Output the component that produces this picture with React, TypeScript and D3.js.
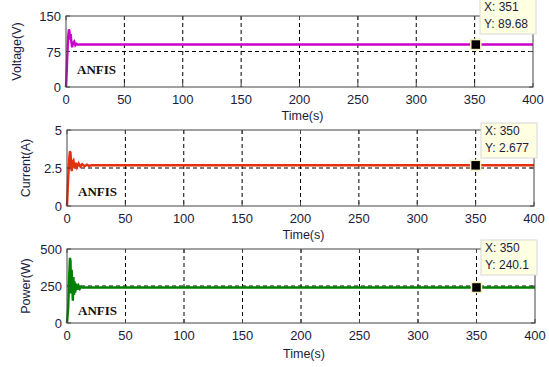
import React from "react";
import * as d3 from "d3";

const xTicks = [0, 50, 100, 150, 200, 250, 300, 350, 400];

const voltT = [0, 0.5, 1, 1.8, 2.5, 3, 3.5, 4, 4.6, 5.3, 6, 7, 8, 9, 10, 12, 400];
const voltV = [0, 25, 60, 105, 122, 118, 100, 112, 95, 84, 93, 96, 88, 91, 89.5, 89.7, 89.68];

const currT = [0, 0.5, 1, 2, 2.5, 3, 3.5, 4, 4.6, 5.5, 6.5, 7.5, 8.5, 10, 11.5, 13, 15, 17, 19, 21, 400];
const currV = [0, 0.9, 1.8, 3.2, 3.6, 3.5, 2.8, 2.3, 2.9, 3.0, 2.5, 2.85, 2.55, 2.8, 2.6, 2.75, 2.62, 2.72, 2.64, 2.677, 2.677];

const powT = [0, 0.5, 1, 1.8, 2.5, 3, 3.5, 4, 4.5, 5, 5.5, 6, 6.5, 7, 8, 9, 10, 11, 12, 13, 400];
const powV = [0, 50, 100, 300, 440, 420, 200, 360, 250, 150, 310, 190, 280, 205, 265, 225, 250, 232, 245, 240, 240.1];

const panels = [
  { label: "Voltage(V)", yTicks: [0, 75, 150], yTickLabels: ["0", "75", "150"], yMax: 150, grid: 75, t: voltT, v: voltV, color: "#cc00cc", tipX: "X: 351", tipY: "Y: 89.68", tipXv: 351, tipYv: 89.68, top: 16, bottom: 87, left: 66, right: 533, tipTop: -1, tipLeft: 480, axisLabelY: 120, yLabelX: 21, anfisY: 74 },
  { label: "Current(A)", yTicks: [0, 2.5, 5], yTickLabels: ["0", "2.5", "5"], yMax: 5, grid: 2.5, t: currT, v: currV, color: "#e3300f", tipX: "X: 350", tipY: "Y: 2.677", tipXv: 350, tipYv: 2.677, top: 130, bottom: 206, left: 67, right: 534, tipTop: 123, tipLeft: 481, axisLabelY: 239, yLabelX: 30, anfisY: 196 },
  { label: "Power(W)", yTicks: [0, 250, 500], yTickLabels: ["0", "250", "500"], yMax: 500, grid: 250, t: powT, v: powV, color: "#008000", tipX: "X: 350", tipY: "Y: 240.1", tipXv: 350, tipYv: 240.1, top: 249, bottom: 323, left: 67, right: 535, tipTop: 240, tipLeft: 481, axisLabelY: 358, yLabelX: 30, anfisY: 315 },
];

function Panel({ p }: { p: typeof panels[number] }) {
  const x = d3.scaleLinear().domain([0, 400]).range([p.left, p.right]);
  const y = d3.scaleLinear().domain([0, p.yMax]).range([p.bottom, p.top]);
  const pts = p.t.map((t, i) => [t, p.v[i]] as [number, number]);
  const line = d3.line<[number, number]>().x((d) => x(d[0])).y((d) => y(d[1]));
  const mx = x(p.tipXv);
  const my = y(p.tipYv);
  const tipW = 56;
  const tipH = 35;
  const font = "Liberation Sans, Arial, sans-serif";
  const tickColor = "#1c1c3c";
  return (
    <g>
      <rect x={p.left} y={p.top} width={p.right - p.left} height={p.bottom - p.top} fill="#fff" />
      {xTicks.slice(1, -1).map((t) => (
        <line key={t} x1={x(t)} x2={x(t)} y1={p.top} y2={p.bottom} stroke="#000" strokeWidth={1} strokeDasharray="4,3" />
      ))}
      <line x1={p.left} x2={p.right} y1={y(p.grid)} y2={y(p.grid)} stroke="#000" strokeWidth={1} strokeDasharray="4,3" />
      <path d={line(pts) || ""} fill="none" stroke={p.color} strokeWidth={2.4} />
      <rect x={p.left} y={p.top} width={p.right - p.left} height={p.bottom - p.top} fill="none" stroke="#444" strokeWidth={1} />
      {xTicks.map((t) => (
        <g key={t}>
          <line x1={x(t)} x2={x(t)} y1={p.bottom} y2={p.bottom - 4} stroke="#444" />
          <line x1={x(t)} x2={x(t)} y1={p.top} y2={p.top + 4} stroke="#444" />
          <text x={x(t)} y={p.bottom + 17} textAnchor="middle" fontFamily={font} fontSize={13} fill={tickColor}>{t}</text>
        </g>
      ))}
      {p.yTicks.map((t, i) => (
        <g key={t}>
          <line x1={p.left} x2={p.left + 4} y1={y(t)} y2={y(t)} stroke="#444" />
          <line x1={p.right} x2={p.right - 4} y1={y(t)} y2={y(t)} stroke="#444" />
          <text x={p.left - 5} y={y(t) + 5} textAnchor="end" fontFamily={font} fontSize={13} fill={tickColor}>{p.yTickLabels[i]}</text>
        </g>
      ))}
      <text x={(p.left + p.right) / 2 + 3} y={p.axisLabelY} textAnchor="middle" fontFamily={font} fontSize={12.5} fill={tickColor}>Time(s)</text>
      <text transform={`translate(${p.yLabelX},${(p.top + p.bottom) / 2}) rotate(-90)`} textAnchor="middle" fontFamily={font} fontSize={12.5} fill={tickColor}>{p.label}</text>
      <text x={p.left + 11} y={p.anfisY} fontFamily="Liberation Serif, Times New Roman, serif" fontWeight="bold" fontSize={13} fill="#111">ANFIS</text>
      <rect x={mx - 5} y={my - 5} width={10} height={10} fill="#000" stroke="#f4f0c0" strokeWidth={1.5} />
      <rect x={p.tipLeft} y={p.tipTop} width={tipW} height={tipH} fill="#ffffe1" stroke="#d8d8d8" strokeWidth={1} />
      <text x={p.tipLeft + 4} y={p.tipTop + 12} fontFamily={font} fontSize={12} fill={tickColor}>{p.tipX}</text>
      <text x={p.tipLeft + 4} y={p.tipTop + 29} fontFamily={font} fontSize={12} fill={tickColor}>{p.tipY}</text>
    </g>
  );
}

export default function App() {
  return (
    <svg width={549} height={367} style={{ position: "absolute", left: 0, top: 0, background: "#fff" }}>
      <rect width={549} height={367} fill="#fff" />
      {panels.map((p, i) => (
        <Panel key={i} p={p} />
      ))}
    </svg>
  );
}
